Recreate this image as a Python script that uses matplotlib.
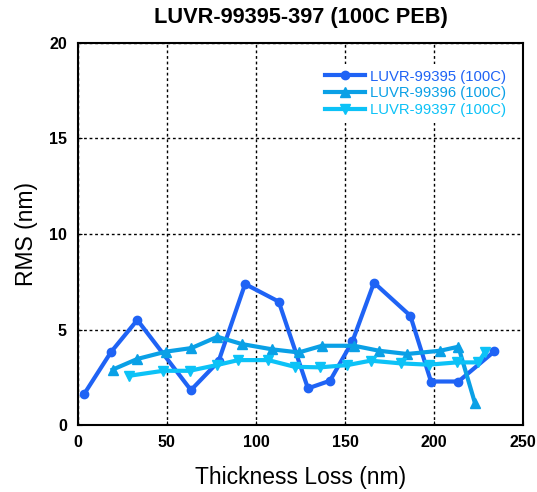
import matplotlib
matplotlib.use("Agg")
import matplotlib.pyplot as plt

plt.rcParams['font.family'] = ['Liberation Sans', 'DejaVu Sans']

x1 = [3.7, 18.6, 33.4, 63.5, 79.0, 93.9, 112.8, 129.2, 141.6, 154.2, 166.3, 186.7, 198.3, 213.7, 233.8]
y1 = [1.65, 3.82, 5.50, 1.83, 3.33, 7.38, 6.46, 1.92, 2.32, 4.38, 7.45, 5.72, 2.28, 2.28, 3.85]

x2 = [19.5, 33.4, 49.3, 63.8, 78.4, 92.0, 109.3, 124.1, 137.1, 155.2, 169.1, 184.9, 203.5, 213.7, 223.0]
y2 = [2.90, 3.46, 3.84, 4.03, 4.62, 4.24, 3.96, 3.80, 4.15, 4.15, 3.89, 3.72, 3.89, 4.10, 1.15]

x3 = [28.8, 47.9, 62.7, 78.0, 90.1, 106.9, 121.7, 136.0, 151.4, 164.4, 181.2, 197.0, 212.8, 224.9, 228.5]
y3 = [2.58, 2.84, 2.84, 3.14, 3.40, 3.40, 3.05, 3.02, 3.14, 3.37, 3.23, 3.16, 3.28, 3.28, 3.80]

labels = ["LUVR-99395 (100C)", "LUVR-99396 (100C)", "LUVR-99397 (100C)"]
colors = ["#1f63f5", "#0aa0e6", "#0cc2f7"]

fig = plt.figure(figsize=(5.37, 4.92), dpi=100)
ax = fig.add_axes([0.145, 0.136, 0.829, 0.777])

ax.plot(x1, y1, color=colors[0], lw=3, marker='o', ms=6, label=labels[0])
ax.plot(x2, y2, color=colors[1], lw=3, marker='^', ms=6.5, label=labels[1])
ax.plot(x3, y3, color=colors[2], lw=3, marker='v', ms=6.5, label=labels[2])

ax.set_xlim(0, 250)
ax.set_ylim(0, 20)
ax.set_xticks([0, 50, 100, 150, 200, 250])
ax.set_yticks([0, 5, 10, 15, 20])
ax.grid(True, color='black', linestyle=(0, (2, 2)), linewidth=1)
ax.tick_params(direction='in', labelsize=11.5, length=3)
ax.tick_params(axis='x', pad=7)
ax.tick_params(axis='y', pad=8)
for lab in ax.get_xticklabels() + ax.get_yticklabels():
    lab.set_fontweight('bold')
for s in ax.spines.values():
    s.set_linewidth(1.5)

ax.set_xlabel("Thickness Loss (nm)", fontsize=16.5, labelpad=12)
ax.set_ylabel("RMS (nm)", fontsize=16.5, labelpad=8)
ax.set_title("LUVR-99395-397 (100C PEB)", fontsize=15.7, fontweight='bold', pad=14)

leg = ax.legend(loc='upper right', bbox_to_anchor=(0.985, 0.957), frameon=True,
                fontsize=10.7, handlelength=2.7, borderaxespad=0.3,
                labelspacing=0.18, handletextpad=0.3)
leg.get_frame().set_facecolor('white')
leg.get_frame().set_edgecolor('none')
leg.get_frame().set_alpha(1)
for t, c in zip(leg.get_texts(), colors):
    t.set_color(c)

fig.savefig("out.png", dpi=100)
